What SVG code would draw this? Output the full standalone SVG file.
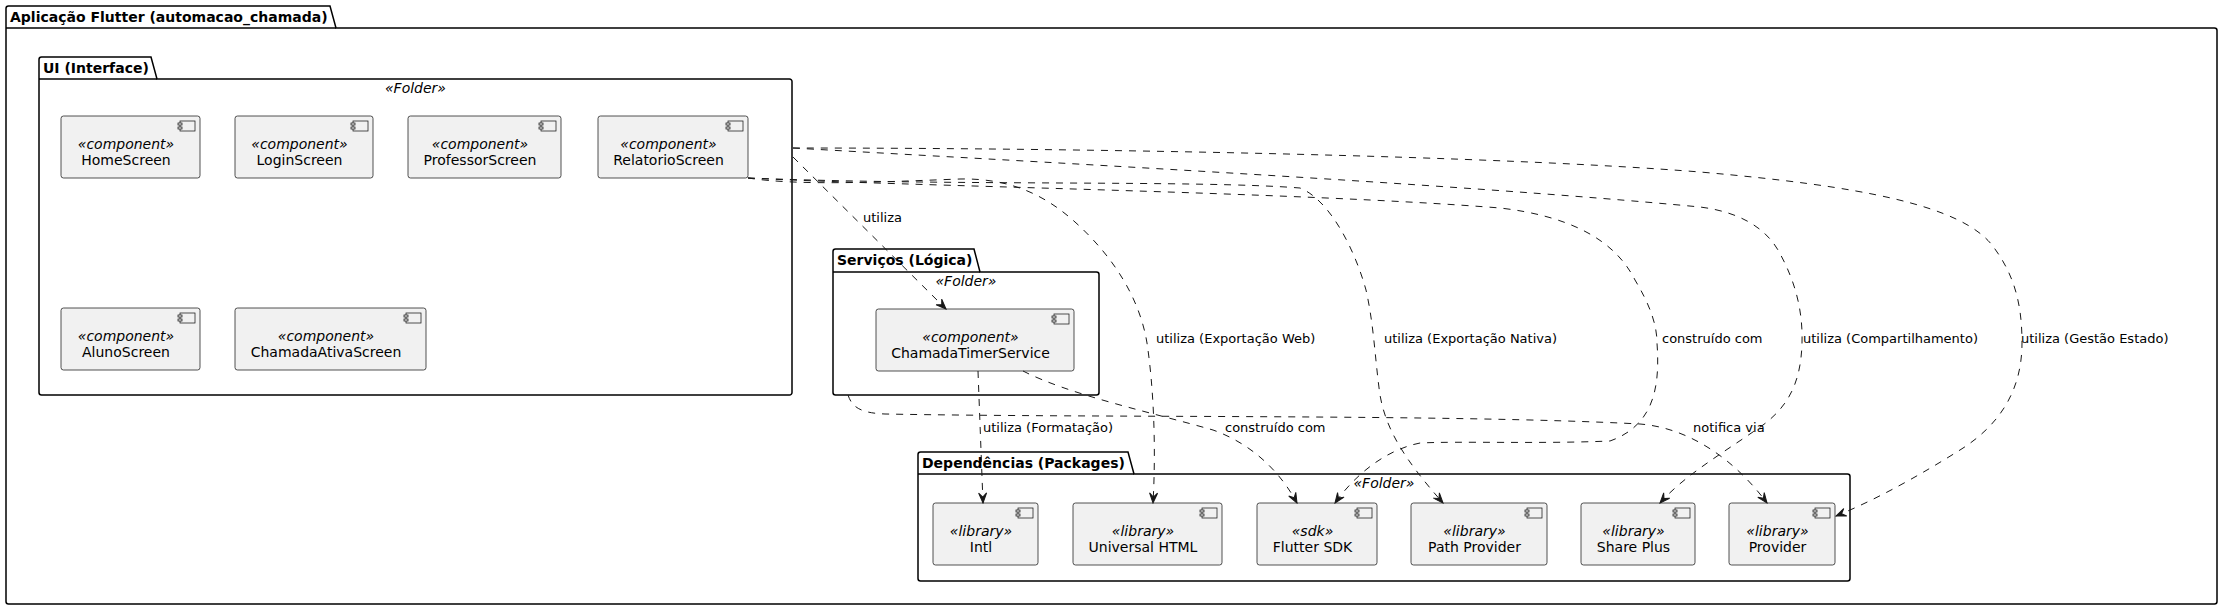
<svg xmlns="http://www.w3.org/2000/svg" width="2224" height="611" viewBox="0 0 2224 611">
<style>
text{font-family:"DejaVu Sans","Liberation Sans",sans-serif;fill:#000}
.pk{fill:none;stroke:#000;stroke-width:1.5}
.pt{font-size:14px;font-weight:bold}
.st{font-size:14px;font-style:italic;text-anchor:middle}
.nm{font-size:14px;text-anchor:middle}
.box{fill:#F1F1F1;stroke:#181818;stroke-width:0.75}
.edge{fill:none;stroke:#181818;stroke-width:1;stroke-dasharray:7,7}
.lbl{font-size:13px}
</style>
<defs>
<marker id="arr" markerUnits="userSpaceOnUse" viewBox="-11 -6 12 12" refX="0" refY="0" markerWidth="12" markerHeight="12" orient="auto">
<path d="M0,0 L-10,-4 L-6,0 L-10,4 Z" fill="#181818" stroke="#181818" stroke-width="1" stroke-dasharray="none"/>
</marker>
<g id="icon">
<rect x="-20" y="5" width="15" height="10" class="box"/>
<rect x="-22" y="7" width="4" height="2" class="box"/>
<rect x="-22" y="11" width="4" height="2" class="box"/>
</g>
</defs>
<rect width="2224" height="611" fill="#fff"/>

<g id="pkg-app">
<path class="pk" d="M8.5,6 L330,6 L336,28 L2214.5,28 A2.5,2.5 0 0 1 2217,30.5 L2217,601.5 A2.5,2.5 0 0 1 2214.5,604 L8.5,604 A2.5,2.5 0 0 1 6,601.5 L6,8.5 A2.5,2.5 0 0 1 8.5,6 Z"/>
<line class="pk" x1="6" y1="28" x2="336" y2="28"/>
<text class="pt" x="10" y="21.5">Aplicação Flutter (automacao_chamada)</text>
</g>

<g id="pkg-ui">
<path class="pk" d="M41.5,57 L151,57 L157,79 L789.5,79 A2.5,2.5 0 0 1 792,81.5 L792,392.5 A2.5,2.5 0 0 1 789.5,395 L41.5,395 A2.5,2.5 0 0 1 39,392.5 L39,59.5 A2.5,2.5 0 0 1 41.5,57 Z"/>
<line class="pk" x1="39" y1="79" x2="157" y2="79"/>
<text class="pt" x="43" y="72.5">UI (Interface)</text>
<text class="st" x="415.5" y="93">«Folder»</text>
</g>

<g id="pkg-serv">
<path class="pk" d="M835.5,249 L974,249 L980,272 L1096.5,272 A2.5,2.5 0 0 1 1099,274.5 L1099,392.5 A2.5,2.5 0 0 1 1096.5,395 L835.5,395 A2.5,2.5 0 0 1 833,392.5 L833,251.5 A2.5,2.5 0 0 1 835.5,249 Z"/>
<line class="pk" x1="833" y1="272" x2="980" y2="272"/>
<text class="pt" x="837" y="265">Serviços (Lógica)</text>
<text class="st" x="966" y="286">«Folder»</text>
</g>

<g id="pkg-deps">
<path class="pk" d="M920.5,452 L1128,452 L1134,474 L1847.5,474 A2.5,2.5 0 0 1 1850,476.5 L1850,578.5 A2.5,2.5 0 0 1 1847.5,581 L920.5,581 A2.5,2.5 0 0 1 918,578.5 L918,454.5 A2.5,2.5 0 0 1 920.5,452 Z"/>
<line class="pk" x1="918" y1="474" x2="1134" y2="474"/>
<text class="pt" x="922" y="467.5">Dependências (Packages)</text>
<text class="st" x="1384" y="488">«Folder»</text>
</g>

<g id="HomeScreen">
<rect class="box" x="61" y="116" width="139" height="62" rx="2.5"/>
<use href="#icon" x="200" y="116"/>
<text class="st" x="126" y="148.5">«component»</text>
<text class="nm" x="126" y="165">HomeScreen</text>
</g>
<g id="LoginScreen">
<rect class="box" x="235" y="116" width="138" height="62" rx="2.5"/>
<use href="#icon" x="373" y="116"/>
<text class="st" x="299.5" y="148.5">«component»</text>
<text class="nm" x="299.5" y="165">LoginScreen</text>
</g>
<g id="ProfessorScreen">
<rect class="box" x="408" y="116" width="153" height="62" rx="2.5"/>
<use href="#icon" x="561" y="116"/>
<text class="st" x="480" y="148.5">«component»</text>
<text class="nm" x="480" y="165">ProfessorScreen</text>
</g>
<g id="RelatorioScreen">
<rect class="box" x="598" y="116" width="150" height="62" rx="2.5"/>
<use href="#icon" x="748" y="116"/>
<text class="st" x="668.5" y="148.5">«component»</text>
<text class="nm" x="668.5" y="165">RelatorioScreen</text>
</g>
<g id="AlunoScreen">
<rect class="box" x="61" y="308" width="139" height="62" rx="2.5"/>
<use href="#icon" x="200" y="308"/>
<text class="st" x="126" y="340.5">«component»</text>
<text class="nm" x="126" y="357">AlunoScreen</text>
</g>
<g id="ChamadaAtivaScreen">
<rect class="box" x="235" y="308" width="191" height="62" rx="2.5"/>
<use href="#icon" x="426" y="308"/>
<text class="st" x="326" y="340.5">«component»</text>
<text class="nm" x="326" y="357">ChamadaAtivaScreen</text>
</g>
<g id="ChamadaTimerService">
<rect class="box" x="876" y="309" width="198" height="62" rx="2.5"/>
<use href="#icon" x="1074" y="309"/>
<text class="st" x="970.5" y="341.5">«component»</text>
<text class="nm" x="970.5" y="358">ChamadaTimerService</text>
</g>
<g id="Intl">
<rect class="box" x="933" y="503" width="105" height="62" rx="2.5"/>
<use href="#icon" x="1038" y="503"/>
<text class="st" x="981" y="535.5">«library»</text>
<text class="nm" x="981" y="552">Intl</text>
</g>
<g id="UniversalHTML">
<rect class="box" x="1073" y="503" width="149" height="62" rx="2.5"/>
<use href="#icon" x="1222" y="503"/>
<text class="st" x="1143" y="535.5">«library»</text>
<text class="nm" x="1143" y="552">Universal HTML</text>
</g>
<g id="FlutterSDK">
<rect class="box" x="1257" y="503" width="120" height="62" rx="2.5"/>
<use href="#icon" x="1377" y="503"/>
<text class="st" x="1312.5" y="535.5">«sdk»</text>
<text class="nm" x="1312.5" y="552">Flutter SDK</text>
</g>
<g id="PathProvider">
<rect class="box" x="1411" y="503" width="136" height="62" rx="2.5"/>
<use href="#icon" x="1547" y="503"/>
<text class="st" x="1474.5" y="535.5">«library»</text>
<text class="nm" x="1474.5" y="552">Path Provider</text>
</g>
<g id="SharePlus">
<rect class="box" x="1581" y="503" width="114" height="62" rx="2.5"/>
<use href="#icon" x="1695" y="503"/>
<text class="st" x="1633.5" y="535.5">«library»</text>
<text class="nm" x="1633.5" y="552">Share Plus</text>
</g>
<g id="Provider">
<rect class="box" x="1729" y="503" width="106" height="62" rx="2.5"/>
<use href="#icon" x="1835" y="503"/>
<text class="st" x="1777.5" y="535.5">«library»</text>
<text class="nm" x="1777.5" y="552">Provider</text>
</g>

<g id="connectors">
<path class="edge" marker-end="url(#arr)" d="M793,157 L946,309"/>
<path class="edge" marker-end="url(#arr)" d="M793,148 C1100,148 1500,156 1700,172 C1860,186 1960,205 1992,245 C2015,275 2022,305 2022,343 C2022,390 2000,425 1960,450 C1925,472 1880,498 1836,516"/>
<path class="edge" marker-end="url(#arr)" d="M793,148 C1000,160 1450,183 1700,207 C1740,212 1765,228 1778,250 C1795,280 1803,310 1802,343 C1801,380 1790,405 1763,425 C1720,455 1685,475 1660,503"/>
<path class="edge" marker-end="url(#arr)" d="M748,178 C800,186 880,182 960,179 C1010,178 1045,195 1075,222 C1115,258 1140,300 1147,343 C1154,390 1156,450 1153,503"/>
<path class="edge" marker-end="url(#arr)" d="M748,178 C950,186 1200,180 1300,188 C1330,200 1355,250 1366,290 C1374,325 1375,360 1380,395 C1386,430 1405,460 1443,503"/>
<path class="edge" marker-end="url(#arr)" d="M748,178 C900,186 1300,192 1500,208 C1570,216 1615,240 1635,280 C1650,305 1657,325 1657,343 C1660,385 1655,425 1610,441 C1540,444 1460,441 1420,443 C1385,450 1355,475 1335,503"/>
<path class="edge" marker-end="url(#arr)" d="M978,371 L983,503"/>
<path class="edge" marker-end="url(#arr)" d="M1023,371 C1070,395 1150,412 1213,430 C1255,445 1282,475 1297,503"/>
<path class="edge" marker-end="url(#arr)" d="M848,395 C852,407 860,413 885,414 C1100,418 1450,414 1640,424 C1690,428 1735,460 1767,503"/>
<text class="lbl" x="863" y="222">utiliza</text>
<text class="lbl" x="1156" y="343">utiliza (Exportação Web)</text>
<text class="lbl" x="1384" y="343">utiliza (Exportação Nativa)</text>
<text class="lbl" x="1662" y="343">construído com</text>
<text class="lbl" x="1803" y="343">utiliza (Compartilhamento)</text>
<text class="lbl" x="2021" y="343">utiliza (Gestão Estado)</text>
<text class="lbl" x="983" y="432">utiliza (Formatação)</text>
<text class="lbl" x="1225" y="432">construído com</text>
<text class="lbl" x="1693" y="432">notifica via</text>
</g>
</svg>
